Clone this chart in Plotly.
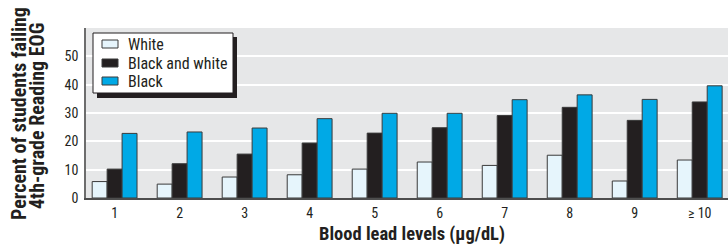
import plotly.graph_objects as go

categories = ["1", "2", "3", "4", "5", "6", "7", "8", "9", "≥ 10"]
white = [5.8, 4.9, 7.4, 8.2, 10.2, 12.7, 11.5, 15.1, 6.0, 13.4]
black_and_white = [10.2, 12.1, 15.5, 19.4, 22.9, 24.8, 29.1, 32.0, 27.4, 33.9]
black = [22.8, 23.3, 24.7, 28.0, 29.9, 29.9, 34.7, 36.4, 34.8, 39.6]
y_ticks = [0, 10, 20, 30, 40, 50]
series_names = ["White", "Black and white", "Black"]
series_colors = ["#e6f5fc", "#231f20", "#00a9e6"]

FONT = "Roboto Condensed, Liberation Sans Narrow, Arial Narrow, sans-serif"
TXT = "#231f20"
W, H = 728, 246
L, R, T, B = 86, 0, 28, 48
pw = W - L - R
ph = H - T - B


def px_x(x):
    return (x - L) / pw


def px_y(y):
    return (H - B - y) / ph


fig = go.Figure()
for name, vals, col in zip(series_names, [white, black_and_white, black], series_colors):
    fig.add_trace(go.Bar(
        name=name, x=categories, y=vals, showlegend=False,
        marker=dict(color=col, line=dict(color="#3a3a3a", width=1)),
    ))

# manual legend: shadow, box, swatches, labels
fig.add_shape(type="rect", xref="paper", yref="paper",
              x0=px_x(97), x1=px_x(237), y0=px_y(98), y1=px_y(37),
              fillcolor="#231f20", line=dict(width=0), layer="above")
fig.add_shape(type="rect", xref="paper", yref="paper",
              x0=px_x(93), x1=px_x(233), y0=px_y(93), y1=px_y(33),
              fillcolor="white", line=dict(color="#231f20", width=1), layer="above")
item_y = [44, 63, 81]
for name, col, yc in zip(series_names, series_colors, item_y):
    fig.add_shape(type="rect", xref="paper", yref="paper",
                  x0=px_x(102), x1=px_x(118), y0=px_y(yc + 4), y1=px_y(yc - 4),
                  fillcolor=col, line=dict(color="#3a3a3a", width=1), layer="above")
    fig.add_annotation(text=name, xref="paper", yref="paper",
                       x=px_x(126), y=px_y(yc), xanchor="left", yanchor="middle",
                       showarrow=False, font=dict(family=FONT, size=16, color=TXT))

# axis titles
fig.add_annotation(text="<b>Percent of students failing</b>", xref="paper", yref="paper",
                   x=px_x(19), y=px_y(114), xanchor="center", yanchor="middle",
                   textangle=-90, showarrow=False,
                   font=dict(family=FONT, size=20, color=TXT))
fig.add_annotation(text="<b>4th-grade Reading EOG</b>", xref="paper", yref="paper",
                   x=px_x(37), y=px_y(116), xanchor="center", yanchor="middle",
                   textangle=-90, showarrow=False,
                   font=dict(family=FONT, size=20, color=TXT))
fig.add_annotation(text="<b>Blood lead levels (μg/dL)</b>", xref="paper", yref="paper",
                   x=px_x(412), y=px_y(234), xanchor="center", yanchor="middle",
                   showarrow=False,
                   font=dict(family=FONT, size=18.5, color=TXT))

fig.update_layout(
    width=W, height=H,
    margin=dict(l=L, r=R, t=T, b=B, pad=0, autoexpand=False),
    barmode="group", bargap=0.31, bargroupgap=0,
    plot_bgcolor="#e6e7e8", paper_bgcolor="white",
    font=dict(family=FONT, color=TXT, size=14),
    showlegend=False,
    xaxis=dict(
        type="category", range=[-0.44, 9.435], automargin=False,
        showgrid=False, showline=True, linecolor="#4d4d4d", linewidth=1.5,
        ticks="", ticklabelstandoff=1,
        tickfont=dict(family=FONT, size=14, color=TXT),
    ),
    yaxis=dict(
        range=[0, 60], tickvals=y_ticks, automargin=False,
        showgrid=True, gridcolor="white", gridwidth=1.5,
        zeroline=False, showline=True, linecolor="#6d6d6d", linewidth=1.5,
        ticks="", ticklabelstandoff=3,
        tickfont=dict(family=FONT, size=14, color=TXT),
    ),
)

fig.write_html("out.html", config={"displayModeBar": False},
               post_script="document.body.style.margin='0px';")
